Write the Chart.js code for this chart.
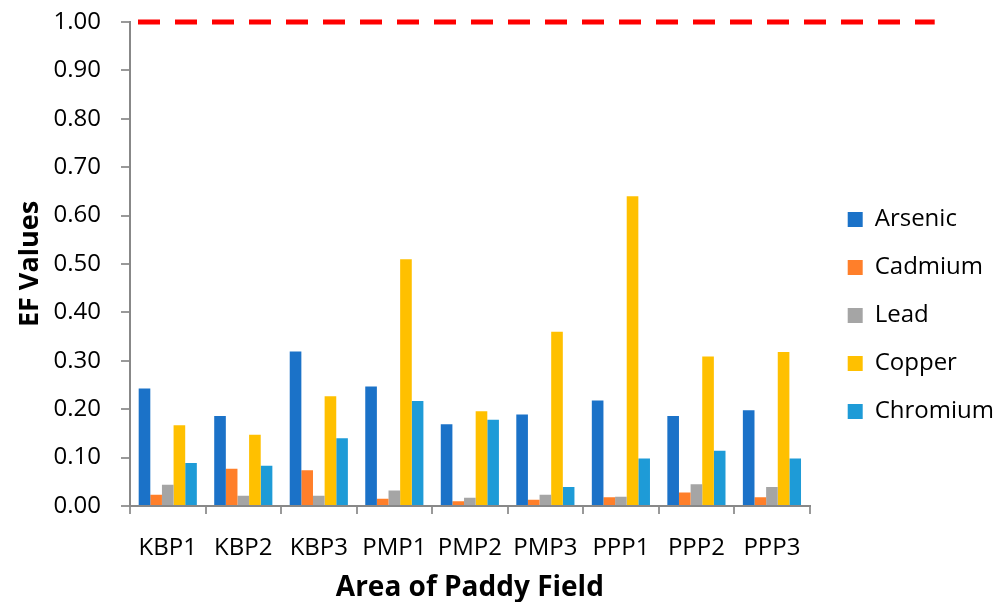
<!DOCTYPE html>
<html>
<head>
<meta charset="utf-8">
<script src="https://cdn.jsdelivr.net/npm/chart.js@4/dist/chart.umd.min.js"></script>
<style>
  html, body { margin: 0; padding: 0; background: #fff; }
  .chart-wrap { width: 1002px; height: 602px; position: relative; }
</style>
</head>
<body>
<div class="chart-wrap"><canvas id="efChart"></canvas></div>
<script>
// data
var areas = ["KBP1", "KBP2", "KBP3", "PMP1", "PMP2", "PMP3", "PPP1", "PPP2", "PPP3"];
var arsenic = [0.243, 0.186, 0.319, 0.247, 0.169, 0.189, 0.218, 0.186, 0.198];
var cadmium = [0.023, 0.077, 0.074, 0.015, 0.010, 0.013, 0.018, 0.028, 0.018];
var lead = [0.044, 0.021, 0.021, 0.032, 0.017, 0.023, 0.019, 0.045, 0.039];
var copper = [0.167, 0.147, 0.227, 0.510, 0.196, 0.360, 0.640, 0.309, 0.318];
var chromium = [0.089, 0.083, 0.140, 0.217, 0.178, 0.039, 0.098, 0.114, 0.098];
var threshold = 1.0;

var fontFamily = "'Open Sans', 'Noto Sans', sans-serif";

// red dashed reference line at EF = 1
var thresholdLine = {
  id: "thresholdLine",
  afterDatasetsDraw: function (chart) {
    var ctx = chart.ctx;
    var y = chart.scales.y.getPixelForValue(threshold);
    ctx.save();
    ctx.strokeStyle = "#FF0000";
    ctx.lineWidth = 5;
    ctx.setLineDash([22, 15]);
    ctx.beginPath();
    ctx.moveTo(chart.chartArea.left + 8, y);
    ctx.lineTo(chart.chartArea.right + 125, y);
    ctx.stroke();
    ctx.restore();
  },
};

// push the legend a bit away from the plot
var legendShift = {
  id: "legendShift",
  afterLayout: function (chart) {
    chart.legend.left += 14;
    chart.legend.right += 14;
  },
};

var ctx = document.getElementById("efChart").getContext("2d");
var data = {
  labels: areas,
  datasets: [
    { label: "Arsenic", data: arsenic, backgroundColor: "#1B72C8" },
    { label: "Cadmium", data: cadmium, backgroundColor: "#FF7F2A" },
    { label: "Lead", data: lead, backgroundColor: "#A5A5A5" },
    { label: "Copper", data: copper, backgroundColor: "#FFC000" },
    { label: "Chromium", data: chromium, backgroundColor: "#1E9BD7" },
  ],
};
var options = {
  responsive: true,
  maintainAspectRatio: false,
  animation: false,
  datasets: {
    bar: {
      barPercentage: 1.0,
      categoryPercentage: 0.77,
    },
  },
  layout: {
    padding: { top: 0, left: 0, right: 12, bottom: 0 },
  },
  plugins: {
    legend: {
      position: "right",
      title: {
        display: true,
        text: " ",
        padding: { top: 8, bottom: 9 },
        font: { family: fontFamily, size: 10 },
      },
      labels: {
        color: "#000",
        boxWidth: 15,
        boxHeight: 15,
        padding: 24,
        font: { family: fontFamily, size: 24 },
      },
    },
    tooltip: { enabled: false },
  },
  scales: {
    x: {
      afterFit: function (scale) {
        scale.height = 96;
      },
      ticks: {
        color: "#000",
        padding: 20,
        font: { family: fontFamily, size: 24 },
      },
      grid: {
        drawOnChartArea: false,
        drawTicks: true,
        tickLength: 8,
        color: "#999",
        lineWidth: 2,
      },
      border: { color: "#888", width: 2 },
      title: {
        display: true,
        text: "Area of Paddy Field",
        color: "#000",
        padding: { top: 0, bottom: 0 },
        font: { family: fontFamily, size: 28, weight: "bold", lineHeight: 1 },
      },
    },
    y: {
      min: 0,
      max: 1,
      afterFit: function (scale) {
        scale.width = 130;
        scale.paddingTop = 22;
      },
      ticks: {
        stepSize: 0.1,
        color: "#000",
        padding: 20,
        font: { family: fontFamily, size: 24 },
        callback: function (value) {
          return Number(value).toFixed(2);
        },
      },
      grid: {
        drawOnChartArea: false,
        drawTicks: true,
        tickLength: 9,
        color: "#999",
        lineWidth: 2,
      },
      border: { color: "#888", width: 2 },
      title: {
        display: true,
        text: "EF Values",
        color: "#000",
        padding: { top: 14, bottom: 0 },
        font: { family: fontFamily, size: 27, weight: "bold" },
      },
    },
  },
};
var efChart = new Chart(ctx, {
  type: "bar",
  data: data,
  options: options,
  plugins: [thresholdLine, legendShift],
});
</script>
</body>
</html>
